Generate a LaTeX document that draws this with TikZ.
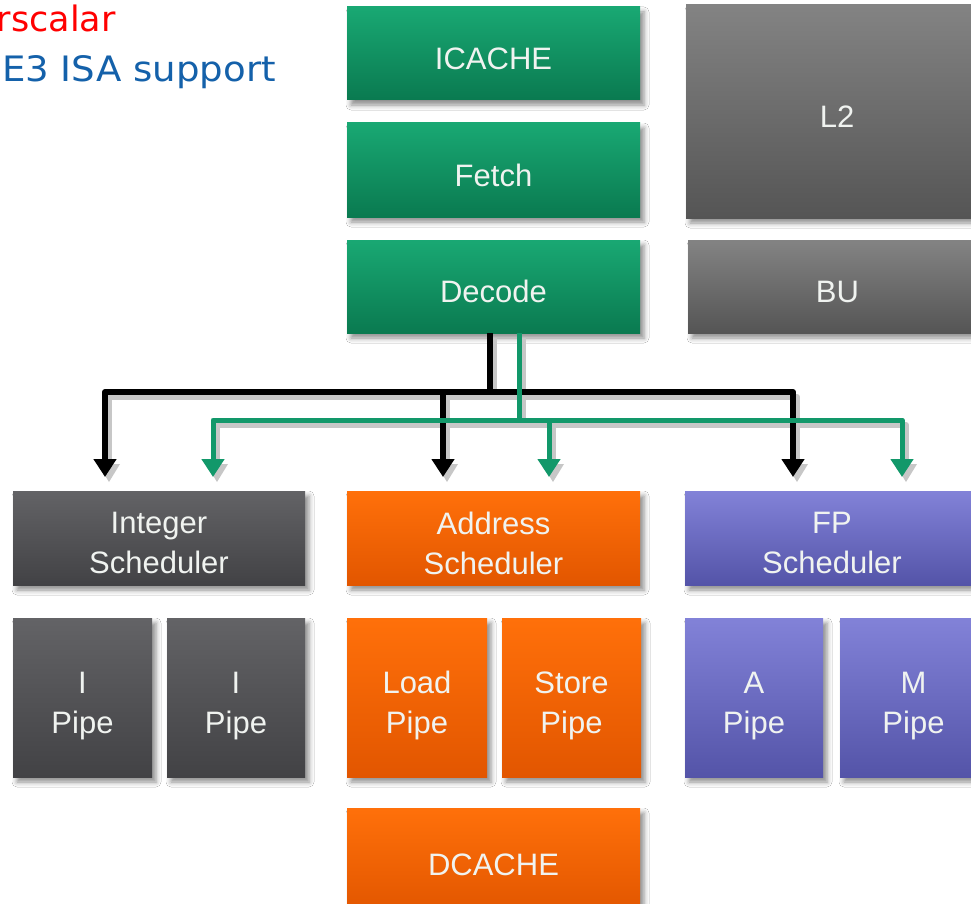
\documentclass[tikz,border=0pt]{standalone}
\usepackage{fontspec}
\setmainfont{Liberation Sans}
\newfontfamily\verd{DejaVu Sans}
\newfontfamily\verdw[FakeStretch=1.06]{DejaVu Sans}
\usetikzlibrary{arrows.meta,shadows.blur}
\definecolor{gtop}{HTML}{19A873}
\definecolor{gbot}{HTML}{0A7A50}
\definecolor{ktop}{HTML}{636366}
\definecolor{kbot}{HTML}{424245}
\definecolor{ltop}{HTML}{838383}
\definecolor{lbot}{HTML}{555555}
\definecolor{otop}{HTML}{FF700A}
\definecolor{obot}{HTML}{E25600}
\definecolor{btop}{HTML}{8282D8}
\definecolor{bbot}{HTML}{5454A8}
\definecolor{garrow}{HTML}{12986A}
\definecolor{txtc}{HTML}{F0F3F0}
\definecolor{redt}{HTML}{FF0000}
\definecolor{bluet}{HTML}{1461AA}
\tikzset{
  x=1pt, y=-1pt,
  blk/.style n args={4}{anchor=north west, inner sep=0pt, outer sep=0pt,
    minimum width=#3 pt, minimum height=#4 pt, at={(#1,#2)},
    blur shadow={shadow xshift=4pt, shadow yshift=-5pt, shadow blur radius=5pt, shadow opacity=45}},
  gbox/.style={top color=gtop, bottom color=gbot},
  kbox/.style={top color=ktop, bottom color=kbot},
  lbox/.style={top color=ltop, bottom color=lbot},
  obox/.style={top color=otop, bottom color=obot},
  bbox/.style={top color=btop, bottom color=bbot},
  txt/.style={text=txtc, align=center, text depth=0pt, yshift=-5pt,
    font=\fontsize{31}{40}\selectfont, inner sep=0pt},
  blkline/.style={line width=6pt, black, line join=round},
  grnline/.style={line width=5pt, garrow, line join=round},
  shd/.style={line width=6pt, black!22, line join=round, transform canvas={xshift=4pt,yshift=-5pt}},
  arr/.style={-{Triangle[width=22pt,length=18pt]}},
}
\begin{document}
\begin{tikzpicture}
\useasboundingbox (0,0) rectangle (971,904);
\clip (0,0) rectangle (971,904);
\fill[white] (0,0) rectangle (971,904);

% top-left text
\node[anchor=base east, text=redt, font=\verd\fontsize{35}{40}\selectfont, inner sep=0pt] (t1) at (116,32) {rscalar};
\node[anchor=base east, text=bluet, font=\verdw\fontsize{35}{40}\selectfont, inner sep=0pt] (t2) at (276,82) {E3 ISA support};

% front end
\node[blk={347}{7}{293}{93}, gbox, label={[txt]center:ICACHE}] (icache) {};
\node[blk={347}{123}{293}{94}, gbox, label={[txt]center:Fetch}] (fetch) {};
\node[blk={347}{240}{293}{93}, gbox, label={[txt]center:Decode}] (decode) {};
\node[blk={686}{5}{302}{213}, lbox, label={[txt]center:L2}] (l2) {};
\node[blk={688}{240}{299}{93}, lbox, label={[txt]center:BU}] (bu) {};

% schedulers
\node[blk={13}{491}{292}{94}, kbox, label={[txt]center:Integer\\Scheduler}] (isched) {};
\node[blk={347}{491}{293}{94}, obox, label={[txt]center:Address\\Scheduler}] (asched) {};
\node[blk={685}{491}{294}{94}, bbox, label={[txt]center:FP\\Scheduler}] (fsched) {};

% pipes
\node[blk={13}{618}{139}{159}, kbox, label={[txt]center:I\\Pipe}] (ip1) {};
\node[blk={167}{618}{138}{159}, kbox, label={[txt]center:I\\Pipe}] (ip2) {};
\node[blk={347}{618}{140}{159}, obox, label={[txt]center:Load\\Pipe}] (lp) {};
\node[blk={502}{618}{139}{159}, obox, label={[txt]center:Store\\Pipe}] (sp) {};
\node[blk={685}{618}{138}{159}, bbox, label={[txt]center:A\\Pipe}] (ap) {};
\node[blk={840}{618}{147}{159}, bbox, label={[txt]center:M\\Pipe}] (mp) {};
\node[blk={347}{808}{293}{104}, obox, label={[txt]center:DCACHE}] (dcache) {};

% connector junctions and ends
\coordinate (bj) at (490,392);
\coordinate (gj) at (519,420);
\coordinate (b1) at (105,477);
\coordinate (b2) at (443,477);
\coordinate (b3) at (793,477);
\coordinate (g1) at (213,477);
\coordinate (g2) at (549,477);
\coordinate (g3) at (902,477);

% shadows of connectors
\draw[shd] (decode.south -| bj) -- (bj);
\draw[shd] (decode.south -| gj) -- (gj);
\draw[shd] (bj) -| ([yshift=14pt]b1);
\draw[shd] (bj) -| ([yshift=14pt]b3);
\draw[shd] (gj) -| ([yshift=14pt]g1);
\draw[shd] (gj) -| ([yshift=14pt]g3);
\draw[shd] (b2 |- bj) -- ([yshift=14pt]b2);
\draw[shd] (g2 |- gj) -- ([yshift=14pt]g2);
\fill[black!22, transform canvas={xshift=4pt,yshift=-5pt}]
  (94,459) -- (116,459) -- (105,477) -- cycle
  (432,459) -- (454,459) -- (443,477) -- cycle
  (782,459) -- (804,459) -- (793,477) -- cycle
  (202,459) -- (224,459) -- (213,477) -- cycle
  (538,459) -- (560,459) -- (549,477) -- cycle
  (891,459) -- (913,459) -- (902,477) -- cycle;

% black connectors
\draw[blkline] (decode.south -| bj) -- (bj);
\draw[blkline, arr] (bj) -| (b1);
\draw[blkline, arr] (bj) -| (b3);
\draw[blkline, arr] (b2 |- bj) -- (b2);

% green connectors
\draw[grnline] (decode.south -| gj) -- (gj);
\draw[grnline, arr] (gj) -| (g1);
\draw[grnline, arr] (gj) -| (g3);
\draw[grnline, arr] (g2 |- gj) -- (g2);
\end{tikzpicture}
\end{document}
